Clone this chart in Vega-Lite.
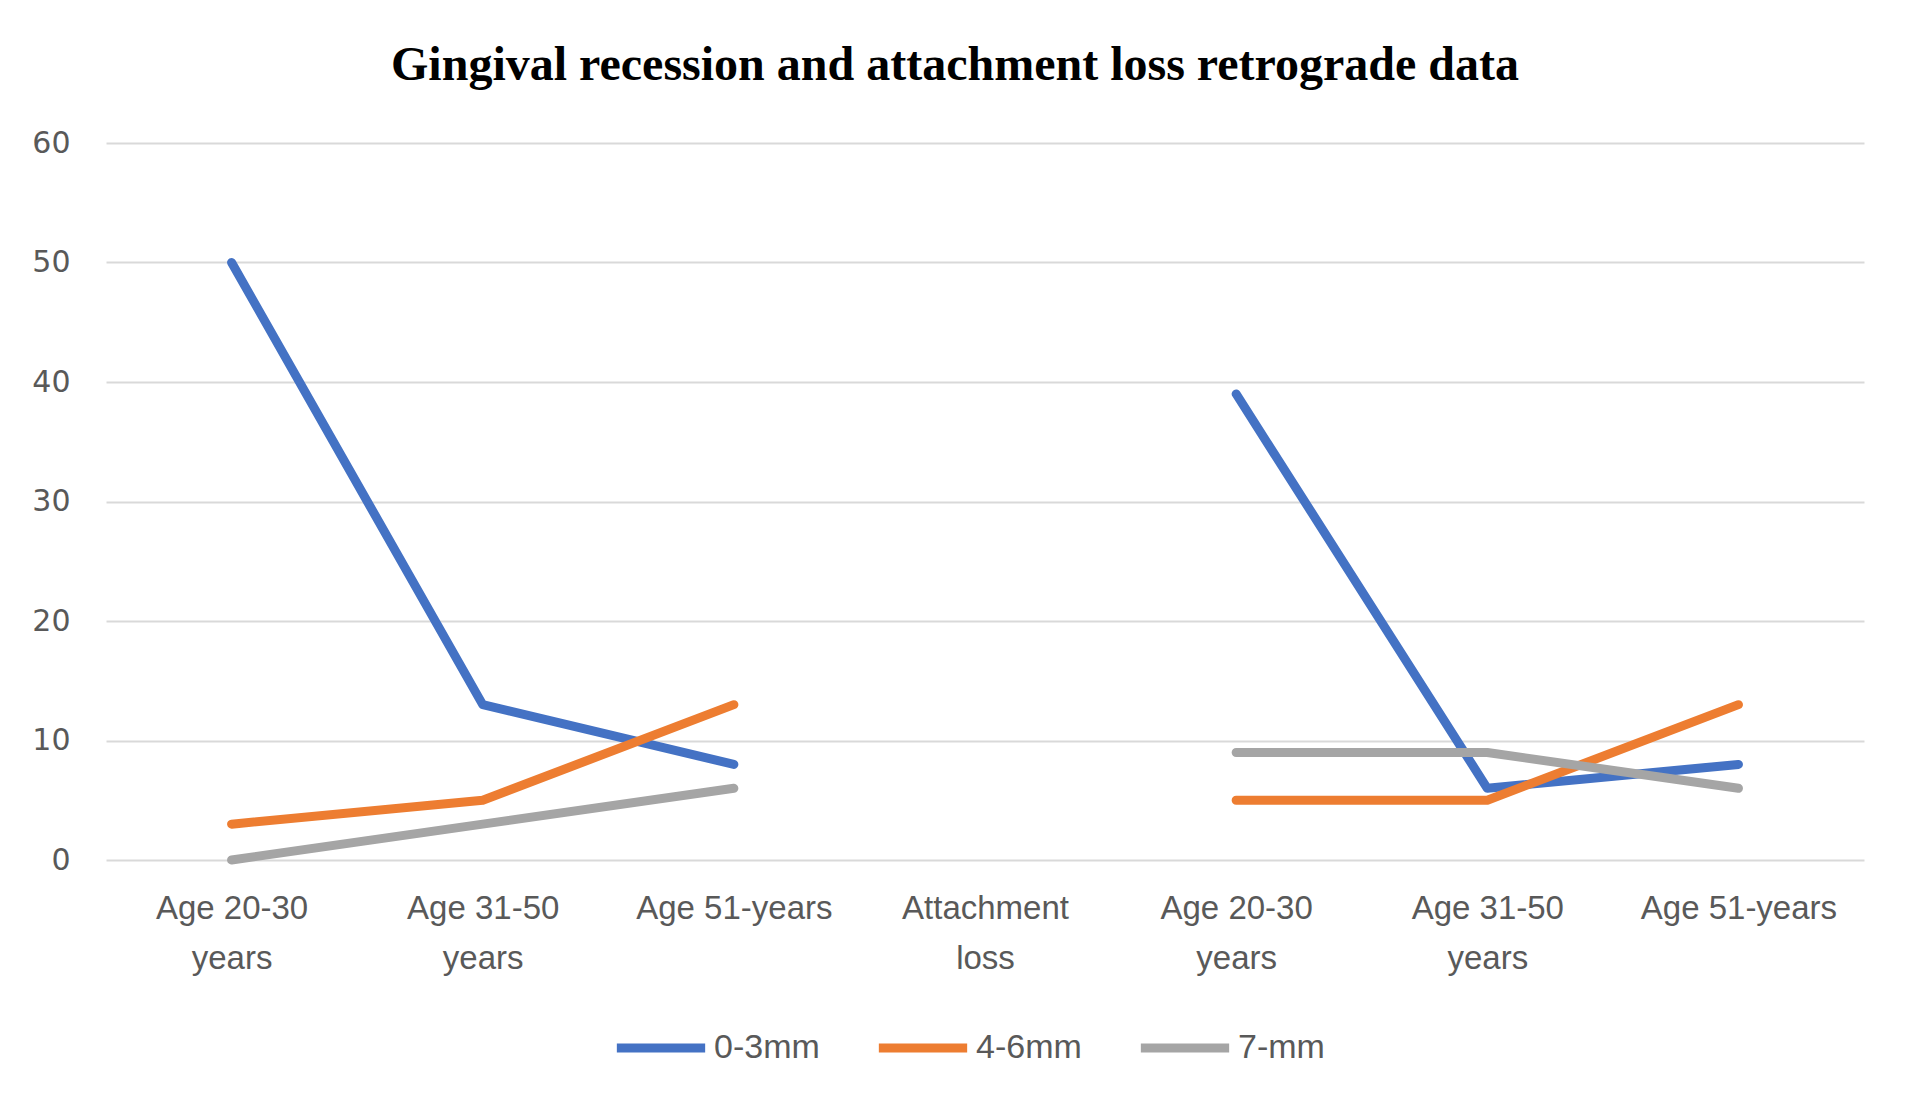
{
  "$schema": "https://vega.github.io/schema/vega-lite/v6.json",
  "autosize": "none",
  "width": 1758,
  "height": 717,
  "padding": {"left": 106, "top": 143, "right": 49, "bottom": 253},
  "background": "white",
  "title": {
    "text": "Gingival recession and attachment loss retrograde data",
    "font": "Liberation Serif",
    "fontWeight": "bold",
    "fontSize": 48,
    "color": "#000000",
    "anchor": "middle",
    "dx": -30,
    "offset": 38
  },
  "data": {
    "values": [
      {"cat": "1|Age 20-30|years", "part": "A", "series": "0-3mm", "value": 50},
      {"cat": "2|Age 31-50|years", "part": "A", "series": "0-3mm", "value": 13},
      {"cat": "3|Age 51-years", "part": "A", "series": "0-3mm", "value": 8},
      {"cat": "5|Age 20-30|years", "part": "B", "series": "0-3mm", "value": 39},
      {"cat": "6|Age 31-50|years", "part": "B", "series": "0-3mm", "value": 6},
      {"cat": "7|Age 51-years", "part": "B", "series": "0-3mm", "value": 8},
      {"cat": "1|Age 20-30|years", "part": "A", "series": "4-6mm", "value": 3},
      {"cat": "2|Age 31-50|years", "part": "A", "series": "4-6mm", "value": 5},
      {"cat": "3|Age 51-years", "part": "A", "series": "4-6mm", "value": 13},
      {"cat": "5|Age 20-30|years", "part": "B", "series": "4-6mm", "value": 5},
      {"cat": "6|Age 31-50|years", "part": "B", "series": "4-6mm", "value": 5},
      {"cat": "7|Age 51-years", "part": "B", "series": "4-6mm", "value": 13},
      {"cat": "1|Age 20-30|years", "part": "A", "series": "7-mm", "value": 0},
      {"cat": "2|Age 31-50|years", "part": "A", "series": "7-mm", "value": 3},
      {"cat": "3|Age 51-years", "part": "A", "series": "7-mm", "value": 6},
      {"cat": "5|Age 20-30|years", "part": "B", "series": "7-mm", "value": 9},
      {"cat": "6|Age 31-50|years", "part": "B", "series": "7-mm", "value": 9},
      {"cat": "7|Age 51-years", "part": "B", "series": "7-mm", "value": 6}
    ]
  },
  "mark": {"type": "line", "strokeWidth": 9, "strokeCap": "round", "strokeJoin": "round"},
  "encoding": {
    "x": {
      "field": "cat",
      "type": "ordinal",
      "scale": {
        "type": "point",
        "padding": 0.5,
        "domain": ["1|Age 20-30|years", "2|Age 31-50|years", "3|Age 51-years", "4|Attachment|loss", "5|Age 20-30|years", "6|Age 31-50|years", "7|Age 51-years"]
      },
      "axis": {
        "title": null,
        "labelExpr": "slice(split(datum.value, '|'), 1)",
        "labelAngle": 0,
        "labelFont": "Liberation Sans",
        "labelFontSize": 33,
        "labelColor": "#595959",
        "labelBaseline": "top",
        "labelPadding": 32,
        "labelLineHeight": 50,
        "labelAlign": "center",
        "labelLimit": 0,
        "labelOverlap": false,
        "domain": false,
        "ticks": false,
        "grid": false
      }
    },
    "y": {
      "field": "value",
      "type": "quantitative",
      "scale": {"domain": [0, 60], "nice": false},
      "axis": {
        "title": null,
        "values": [0, 10, 20, 30, 40, 50, 60],
        "labelFont": "DejaVu Sans",
        "labelFontSize": 30,
        "labelColor": "#595959",
        "labelPadding": 36,
        "domain": false,
        "ticks": false,
        "grid": true,
        "gridColor": "#D9D9D9",
        "gridWidth": 2
      }
    },
    "color": {
      "field": "series",
      "type": "nominal",
      "scale": {"domain": ["0-3mm", "4-6mm", "7-mm"], "range": ["#4472C4", "#ED7D31", "#A5A5A5"]},
      "legend": {
        "title": null,
        "orient": "none",
        "direction": "horizontal",
        "legendX": 506,
        "legendY": 856,
        "symbolType": "stroke",
        "symbolSize": 7800,
        "symbolStrokeWidth": 9,
        "labelFont": "Liberation Sans",
        "labelFontSize": 34,
        "labelColor": "#595959",
        "labelOffset": 4,
        "columnPadding": 40
      }
    },
    "detail": {"field": "part"}
  },
  "config": {"view": {"stroke": null}}
}
